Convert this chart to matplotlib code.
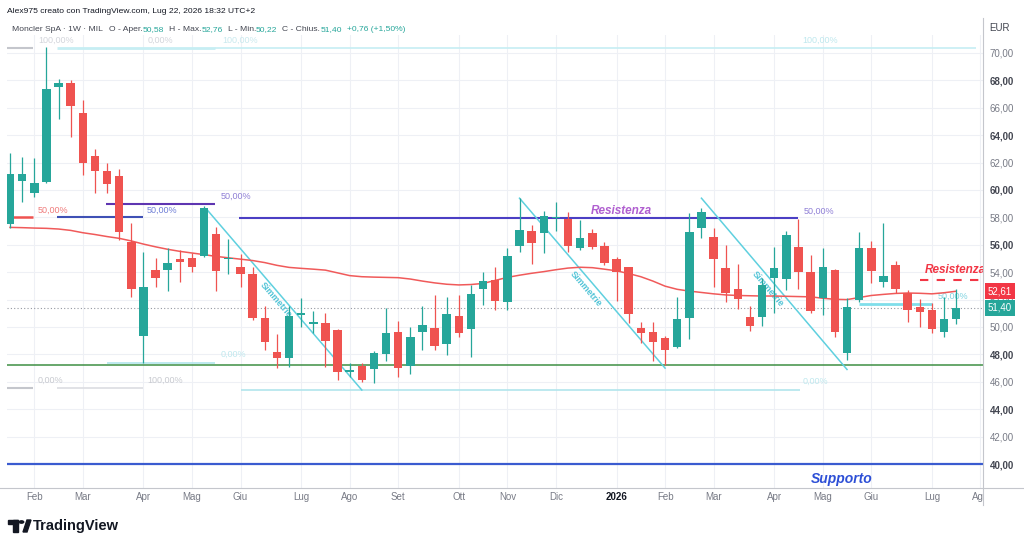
import matplotlib
matplotlib.use("Agg")
import matplotlib.pyplot as plt
from matplotlib.lines import Line2D
from matplotlib.patches import Rectangle, Polygon, Circle
from matplotlib.transforms import Bbox, blended_transform_factory
import numpy as np
import pandas as pd

# weekly candles Moncler SpA (MIL), one per week starting 2025-01-20
opens = [57.5, 60.65, 59.8, 60.6, 67.5, 67.8, 65.6, 62.45, 61.35, 61.0,
         56.2, 49.35, 54.16, 54.16, 54.99, 55.0, 55.18, 56.76, 54.95, 54.4,
         53.87, 50.64, 48.2, 47.76, 50.9, 50.25, 50.27, 49.78, 46.75, 47.18,
         46.93, 48.03, 49.66, 47.15, 49.66, 49.93, 48.76, 50.83, 49.84, 52.75,
         53.43, 51.8, 55.91, 57.0, 56.84, 57.95, 57.86, 55.75, 56.84, 55.93,
         54.93, 54.36, 49.9, 49.61, 49.22, 48.56, 50.64, 57.2, 56.56, 54.28,
         52.77, 50.7, 50.7, 53.6, 53.48, 55.82, 54.04, 52.09, 54.16, 48.08,
         51.97, 55.74, 53.31, 54.53, 52.46, 51.44, 51.24, 49.66, 50.58]
highs = [62.7, 62.4, 62.3, 70.46, 68.1, 68.0, 66.57, 63.0, 61.95, 61.5,
         57.6, 55.5, 55.0, 55.75, 55.6, 55.4, 58.83, 57.3, 56.4, 55.3,
         54.35, 51.5, 49.5, 51.5, 52.1, 51.2, 51.0, 49.85, 47.4, 47.4,
         48.27, 51.36, 50.47, 50.0, 51.5, 52.34, 52.17, 52.34, 53.07, 54.04,
         54.4, 55.75, 59.4, 57.45, 58.5, 59.15, 58.37, 57.8, 57.13, 56.2,
         55.13, 54.4, 50.34, 50.34, 49.37, 52.2, 58.3, 58.66, 57.2, 55.98,
         54.6, 51.5, 53.55, 55.86, 57.03, 57.86, 55.26, 55.74, 54.2, 52.1,
         56.9, 56.3, 57.6, 54.84, 52.7, 52.04, 51.72, 52.2, 52.76]
lows = [57.2, 59.1, 59.5, 60.5, 65.2, 63.9, 61.1, 59.75, 59.75, 56.35,
        52.2, 47.4, 52.9, 52.6, 53.3, 54.05, 55.1, 52.65, 53.9, 52.95,
        50.5, 48.3, 46.98, 47.1, 50.0, 49.55, 47.1, 46.13, 46.37, 46.0,
        45.9, 47.5, 46.37, 46.6, 48.3, 48.3, 47.96, 49.3, 47.83, 51.6,
        51.24, 51.24, 55.5, 54.6, 55.38, 57.0, 55.5, 55.6, 55.7, 54.5,
        51.9, 50.27, 48.8, 47.54, 47.2, 48.5, 49.1, 56.5, 52.9, 51.85,
        51.3, 49.73, 50.05, 51.0, 52.7, 52.77, 51.0, 50.88, 49.3, 47.6,
        51.8, 53.18, 52.95, 52.46, 50.39, 49.98, 49.54, 49.3, 50.22]
closes = [61.2, 61.2, 60.5, 67.35, 67.8, 66.1, 61.95, 61.4, 60.45, 56.9,
          52.75, 52.9, 53.6, 54.7, 54.77, 54.35, 58.66, 54.1, 55.05, 53.9,
          50.64, 48.89, 47.76, 50.8, 51.0, 50.35, 49.0, 46.74, 46.85, 46.13,
          48.08, 49.58, 46.98, 49.3, 50.15, 48.64, 50.93, 49.58, 52.39, 53.36,
          51.92, 55.18, 57.08, 56.15, 58.1, 58.05, 55.91, 56.5, 55.87, 54.65,
          54.04, 50.95, 49.54, 48.93, 48.32, 50.58, 56.96, 58.37, 54.94, 52.5,
          52.04, 50.07, 53.07, 54.28, 56.71, 54.04, 51.19, 54.4, 49.66, 51.44,
          55.74, 54.1, 53.75, 52.77, 51.24, 51.07, 49.85, 50.56, 51.40]
ma_line = [57.27, 57.25, 57.22, 57.2, 57.15, 57.05, 56.88, 56.75, 56.6, 56.47,
           56.28, 56.05, 55.85, 55.67, 55.52, 55.4, 55.28, 55.15, 55.05, 54.95,
           54.85, 54.7, 54.5, 54.35, 54.28, 54.22, 54.15, 53.95, 53.75, 53.67,
           53.64, 53.62, 53.6, 53.5, 53.35, 53.22, 53.12, 53.07, 53.1, 53.18,
           53.4, 53.62, 53.78, 53.92, 54.04, 54.18, 54.3, 54.36, 54.33, 54.22,
           54.1, 53.9, 53.67, 53.35, 52.98, 52.75, 52.62, 52.52, 52.42, 52.34,
           52.3, 52.28, 52.26, 52.26, 52.24, 52.22, 52.2, 52.1, 52.02, 52.0,
           52.15, 52.3, 52.38, 52.45, 52.48, 52.46, 52.42, 52.5, 52.61]

month_names = ["Gen", "Feb", "Mar", "Apr", "Mag", "Giu", "Lug", "Ago", "Set", "Ott", "Nov", "Dic"]
price_ticks = [40, 42, 44, 46, 48, 50, 52, 54, 56, 58, 60, 62, 64, 66, 68, 70]
bold_ticks = [40, 44, 48, 56, 60, 64, 68]

# drawings: (bar from, bar to, price)
support_level = 40.0
green_level = 47.2
resist_red_level = 53.43
simmetrie = [((16.2, 58.6), (29.0, 45.4)),
             ((42.0, 59.4), (54.0, 47.0)),
             ((57.0, 59.4), (69.0, 46.9))]
simm_labels = [(21.9, 52.0), (47.5, 52.77), (62.5, 52.77)]
fib_lines = [(-0.25, 1.9, 70.36, "#c4c6cc", 1.5),
             (3.9, 16.9, 70.36, "#c6eef3", 2.0),
             (16.9, 79.6, 70.36, "#c6eef3", 1.2),
             (-0.25, 1.9, 45.57, "#c4c6cc", 1.5),
             (3.9, 11.0, 45.57, "#dcdde2", 1.2),
             (8.0, 16.9, 47.35, "#b2e5ec", 1.2),
             (19.0, 65.1, 45.4, "#b2e5ec", 1.2),
             (0.25, 1.9, 58.0, "#ef5350", 1.8),
             (3.9, 11.0, 58.0, "#3f51b5", 1.5),
             (7.9, 16.9, 58.95, "#5e35b1", 1.5),
             (18.9, 65.0, 57.95, "#4b3fc4", 1.5),
             (70.0, 76.0, 51.7, "#80deea", 2.0)]
fib_labels = [(3.8, 70.95, "100,00%", "#d3d5db"),
              (12.4, 70.95, "0,00%", "#d3d5db"),
              (19.0, 70.95, "100,00%", "#c9e9ee"),
              (66.8, 70.95, "100,00%", "#bfe8ee"),
              (3.3, 46.13, "0,00%", "#c8cad0"),
              (12.8, 46.13, "100,00%", "#c8cad0"),
              (18.4, 48.03, "0,00%", "#bfe8ee"),
              (66.4, 46.0, "0,00%", "#bfe8ee"),
              (3.5, 58.54, "50,00%", "#ef7b7b"),
              (12.5, 58.54, "50,00%", "#6f7fd6"),
              (18.6, 59.56, "50,00%", "#8f7fd6"),
              (66.7, 58.47, "50,00%", "#8f7fd6"),
              (77.7, 52.26, "50,00%", "#7fd3e0")]

GREEN = "#26a69a"
RED = "#ef5350"
plt.rcParams["font.family"] = ["Liberation Sans", "DejaVu Sans"]

fig = plt.figure(figsize=(10.24, 5.46), dpi=100)
W, H = 1024, 546
ax = fig.add_axes([7 / W, (H - 488) / H, 976 / W, (488 - 35) / H])
ax.set_xlim(-0.25, 80.21)
ax.set_ylim(38.25, 71.31)
for s in ax.spines.values():
    s.set_visible(False)

weeks = pd.date_range("2025-01-20", periods=81, freq="W-MON")
o = np.array(opens); c = np.array(closes)
x = np.arange(len(closes))
col = np.where(c >= o, GREEN, RED)

# month ticks at first bar of each month
tick_pos, tick_lab = [], []
for i in range(1, len(weeks)):
    if weeks[i].month != weeks[i - 1].month:
        tick_pos.append(i)
        tick_lab.append("2026" if weeks[i].month == 1 else month_names[weeks[i].month - 1])

ax.set_xticks(tick_pos)
ax.set_xticklabels([])
ax.set_yticks(price_ticks)
ax.yaxis.tick_right()
ax.set_yticklabels([f"{v:.2f}".replace(".", ",") for v in price_ticks])
ax.tick_params(length=0, labelsize=7, pad=5)
for lab, v in zip(ax.get_yticklabels(), price_ticks):
    if v in bold_ticks:
        lab.set_fontweight("bold")
        lab.set_color("#434651")
    else:
        lab.set_color("#787b86")
ax.grid(True, color="#eef0f5", lw=0.8)
ax.set_axisbelow(True)

trans = blended_transform_factory(ax.transData, ax.transAxes)
for p, lab in zip(tick_pos, tick_lab):
    t = ax.text(p, -0.02, lab, transform=trans, ha="center", va="center", fontsize=7,
                color="#131722" if lab == "2026" else "#787b86",
                fontweight="bold" if lab == "2026" else "normal", clip_on=False)
    if p == tick_pos[-1]:
        t.set_clip_on(True)
        t.set_clip_box(Bbox.from_extents(0, 0, 983, H))

# horizontal levels
ax.axhline(support_level, color="#3a5bd0", lw=1.6, zorder=2)
ax.axhline(green_level, color="#3f8f44", lw=1.1, zorder=2)
ax.axhline(closes[-1], color="#9598a1", lw=0.8, ls=(0, (1, 2)), zorder=2)
ax.plot([75, 80.21], [resist_red_level] * 2, color="#f23645", lw=1.5, ls=(0, (4, 4)), zorder=2)

for x0, x1, p, cl, lw in fib_lines:
    ax.plot([x0, x1], [p, p], color=cl, lw=lw, zorder=2, solid_capstyle="butt")
for fx, fy, txt, cl in fib_labels:
    ax.text(fx, fy, txt, color=cl, fontsize=6.5, ha="center", va="center", zorder=2)

for (p0, p1), (lx, ly) in zip(simmetrie, simm_labels):
    ax.plot([p0[0], p1[0]], [p0[1], p1[1]], color="#5fd0df", lw=1.1, zorder=2)
    d0 = ax.transData.transform(p0); d1 = ax.transData.transform(p1)
    ang = np.degrees(np.arctan2(d1[1] - d0[1], d1[0] - d0[0]))
    ax.text(lx, ly, "Simmetrie", rotation=ang, rotation_mode="anchor", ha="center", va="center",
            color="#4fc3d6", fontsize=6.5, fontweight="bold", zorder=2)

ax.plot(x, ma_line, color="#f05a5a", lw=1.1, zorder=3)

# candles
ax.vlines(x, lows, highs, colors=col, lw=0.9, zorder=4)
ax.bar(x, np.maximum(np.abs(c - o), 0.07), bottom=np.minimum(o, c), width=0.7, color=col, lw=0, zorder=5)

ax.text(50.4, 58.47, "Resistenza", color="#b05fd0", fontsize=8.5, fontweight="bold", style="italic",
        ha="center", va="center", zorder=6)
ax.text(77.9, 54.16, "Resistenza", color="#f23645", fontsize=8.5, fontweight="bold", style="italic",
        ha="center", va="center", zorder=6, clip_on=True)
ax.text(68.6, 38.9, "Supporto", color="#2d4fd6", fontsize=10, fontweight="bold", style="italic",
        ha="center", va="center", zorder=6)

# price boxes on the scale
ytr = blended_transform_factory(ax.transAxes, ax.transData)
ax.text(1.005, ma_line[-1], "52,61", transform=ytr, color="white", fontsize=7, va="center", ha="left",
        bbox=dict(boxstyle="square,pad=0.3", fc="#f23645", ec="none"), clip_on=False, zorder=7)
ax.text(1.005, closes[-1], "51,40", transform=ytr, color="white", fontsize=7, va="center", ha="left",
        bbox=dict(boxstyle="square,pad=0.3", fc=GREEN, ec="none"), clip_on=False, zorder=7)

# frame lines
fig.add_artist(Line2D([983 / W, 983 / W], [1 - 505 / H, 1 - 18 / H], color="#c4c6cc", lw=0.8))
fig.add_artist(Line2D([0, 1], [1 - 488 / H, 1 - 488 / H], color="#c4c6cc", lw=0.8))
fig.text(1000 / W, 1 - 28 / H, "EUR", fontsize=7, color="#434651", ha="center", va="center")

# header
fig.text(7 / W, 1 - 13 / H, "Alex975 creato con TradingView.com, Lug 22, 2026 18:32 UTC+2",
         fontsize=6.1, color="#131722", va="baseline")
head = [("Moncler SpA \u00b7 1W \u00b7 MIL", "#434651", 6), ("O - Aper.", "#434651", 0),
        ("50,58", GREEN, 5), ("H - Max.", "#434651", 0), ("52,76", GREEN, 5),
        ("L - Min.", "#434651", 0), ("50,22", GREEN, 5),
        ("C - Chius.", "#434651", 0), ("51,40", GREEN, 5),
        ("+0,76 (+1,50%)", GREEN, 0)]
renderer = fig.canvas.get_renderer()
hx = 12.0
for txt, cl, gap in head:
    t = fig.text(hx / W, 1 - 31 / H, txt, fontsize=6.1, color=cl, va="baseline")
    hx += t.get_window_extent(renderer).width + gap

# TradingView logo
fig.add_artist(Rectangle((8 / W, 1 - 524 / H), 10 / W, 4 / H, color="#131722", transform=fig.transFigure))
fig.add_artist(Rectangle((13 / W, 1 - 532 / H), 5 / W, 12 / H, color="#131722", transform=fig.transFigure))
fig.add_artist(Circle((21.5 / W, 1 - 522 / H), 2.2 / W, color="#131722", transform=fig.transFigure))
fig.add_artist(Polygon([(23 / W, 1 - 532 / H), (27 / W, 1 - 520 / H), (31 / W, 1 - 520 / H),
                        (27 / W, 1 - 532 / H)], closed=True, color="#131722", transform=fig.transFigure))
fig.text(33 / W, 1 - 526 / H, "TradingView", fontsize=10.5, fontweight="bold", color="#131722", va="center")

fig.savefig("out.png", dpi=100, facecolor="white")
